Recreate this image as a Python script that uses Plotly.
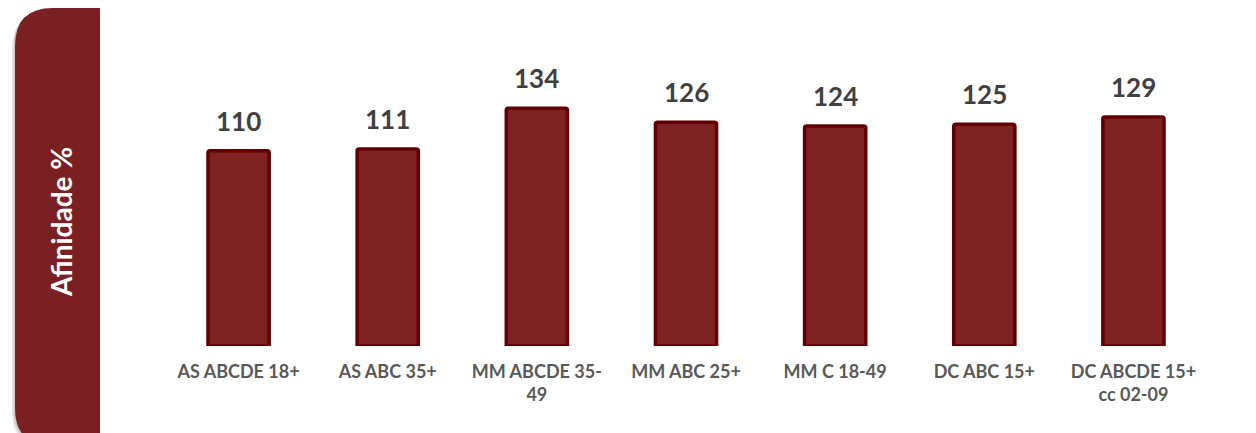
import plotly.graph_objects as go

categories = ["AS ABCDE 18+", "AS ABC 35+", "MM ABCDE 35-<br>49", "MM ABC 25+",
              "MM C 18-49", "DC ABC 15+", "DC ABCDE 15+<br>cc 02-09"]
values = [110, 111, 134, 126, 124, 125, 129]
side_title = "Afinidade %"

W, H = 1256, 433
OFF = 8  # page body margin
ml, mr, mt, mb = 164 - OFF, 48 + OFF, 62 - OFF, 87 + OFF

fig = go.Figure()
fig.add_trace(go.Bar(
    x=categories, y=values,
    marker=dict(color="#7E2224", line=dict(color="#610000", width=3.5), cornerradius=2),
    width=0.41,
))

for c, v in zip(categories, values):
    fig.add_annotation(x=c, y=v, text=f"<b>{v}</b>", showarrow=False,
                       yanchor="bottom", yshift=12,
                       font=dict(family="Lato", size=26, color="#404040"))

# left side panel (pixel coords relative to plot bottom-left)
def panel(dx, dy, color, layer="above"):
    x0, x1 = -149 + dx, -64 + dx
    yt, yb = 338 - dy, -100 - dy
    r = 38
    path = (f"M {x1},{yt} L {x0 + r},{yt} Q {x0},{yt} {x0},{yt - r} "
            f"L {x0},{yb + r} Q {x0},{yb} {x0 + r},{yb} L {x1},{yb} Z")
    return dict(type="path", xref="paper", yref="paper", xsizemode="pixel",
                ysizemode="pixel", xanchor=0, yanchor=0, path=path,
                fillcolor=color, line=dict(width=0), layer=layer)

fig.add_shape(**panel(-3, 3, "rgba(0,0,0,0.10)"))
fig.add_shape(**panel(-1.5, 1.5, "rgba(0,0,0,0.12)"))
fig.add_shape(**panel(0, 0, "#7B2022"))

fig.add_annotation(x=(61 - 164) / (W - 164 - 48), y=(346 - 222) / (433 - 62 - 87),
                   xref="paper", yref="paper", text=f"<b>{side_title}</b>",
                   xanchor="center", yanchor="middle",
                   textangle=-90, showarrow=False,
                   font=dict(family="Lato", size=28, color="white"))

fig.update_layout(
    width=W, height=H,
    margin=dict(l=ml, r=mr, t=mt, b=mb),
    paper_bgcolor="white", plot_bgcolor="white",
    showlegend=False,
    xaxis=dict(showgrid=False, showline=False, zeroline=False, ticks="",
               ticklabelstandoff=13,
               tickfont=dict(family="Lato", size=18, color="#595959"),
               tickprefix="<b>", ticksuffix="</b>"),
    yaxis=dict(range=[0, 160], visible=False),
)

fig.write_html("out.html")
